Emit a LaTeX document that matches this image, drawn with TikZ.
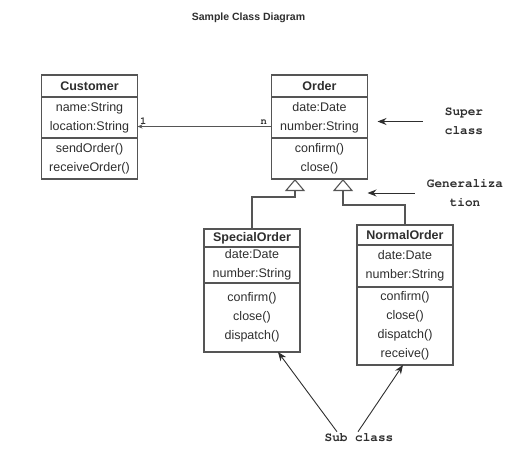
\documentclass[tikz,border=0pt]{standalone}
\usepackage{fontspec}
\setmainfont{Liberation Sans}
\setmonofont{texgyrecursor}[Extension=.otf,UprightFont=*-regular,BoldFont=*-bold]
\usetikzlibrary{arrows.meta,positioning}
\definecolor{ink}{HTML}{2E2E2E}
\definecolor{edge}{HTML}{555555}
\tikzstyle{part} = [draw=edge,line width=1.1pt,minimum width=96pt,inner sep=0pt,outer sep=0pt,align=center,text=ink,font=\fontsize{12.5}{19}\selectfont]
\tikzstyle{head} = [part,font=\fontsize{12.5}{19}\selectfont\bfseries]
\tikzstyle{note} = [text=ink,align=center,inner sep=2pt,font=\fontsize{12.7}{19.5}\selectfont\ttfamily\bfseries]
\tikzstyle{mult} = [text=ink,inner sep=2pt,font=\fontsize{10.5}{12}\selectfont\ttfamily\bfseries]
\tikzstyle{pointer} = [line width=0.9pt,draw=ink,-{Stealth[length=9pt,width=7pt]}]
\tikzstyle{assoc} = [line width=1pt,draw=edge,-{Stealth[length=5pt,width=4pt]}]
\tikzstyle{gen} = [line width=1.1pt,draw=edge,-{Triangle[open,length=12pt,width=20pt]}]

\begin{document}
\begin{tikzpicture}[x=1pt,y=-1pt]
	\useasboundingbox (0,0) rectangle (525,450);
	\node (title) at (248.5,18) [text=ink,font=\fontsize{10.5}{12}\selectfont\bfseries] {Sample Class Diagram};
	% customer
	\node (cust) at (89.5,86) [head,minimum height=22pt] {Customer};
	\node (custattr) [part,minimum height=41pt,below=0pt of cust] {name:String\\location:String};
	\node (custops) [part,minimum height=41pt,below=0pt of custattr] {sendOrder()\\receiveOrder()};
	% order
	\node (order) at (319.5,86) [head,minimum height=22pt] {Order};
	\node (orderattr) [part,minimum height=41pt,below=0pt of order] {date:Date\\number:String};
	\node (orderops) [part,minimum height=41pt,below=0pt of orderattr] {confirm()\\close()};
	% subclasses
	\node (sohead) at (252,238) [head,minimum height=18pt] {SpecialOrder};
	\node (soattr) [part,minimum height=36pt,below=0pt of sohead] {date:Date\\number:String};
	\node (soops) [part,minimum height=69pt,below=0pt of soattr] {confirm()\\close()\\dispatch()};
	\node (nohead) at (405,235) [head,minimum height=20pt] {NormalOrder};
	\node (noattr) [part,minimum height=42pt,below=0pt of nohead] {date:Date\\number:String};
	\node (noops) [part,minimum height=78pt,below=0pt of noattr] {confirm()\\close()\\dispatch()\\receive()};

	\draw [assoc] ([yshift=-9pt]orderattr.west) -- ([yshift=-9pt]custattr.east)
		node [pos=0,anchor=south east,mult,xshift=-2pt] {n}
		node [pos=1,anchor=south west,mult] {1};
	\draw [gen] (sohead.north) -- ++(0,-32) -| ([xshift=-24.5pt]orderops.south);
	\draw [gen] (nohead.north) -- ++(0,-20) -| ([xshift=23.5pt]orderops.south);

	% notes
	\node (super) at (464,121.5) [note] {Super\\class};
	\node (genlabel) at (465,193) [note] {Generaliza\\tion};
	\node (sub) at (359,438) [note] {Sub class};
	\draw [pointer,shorten <=20pt,shorten >=10pt] (super) -- (super -| orderattr.east);
	\draw [pointer,shorten <=10pt] (genlabel) -- (genlabel -| orderops.east);
	\draw [pointer] ([xshift=-22pt]sub.north) -- ([xshift=26pt]soops.south);
	\draw [pointer] ([xshift=-1pt]sub.north) -- ([xshift=-2pt]noops.south);
\end{tikzpicture}
\end{document}
